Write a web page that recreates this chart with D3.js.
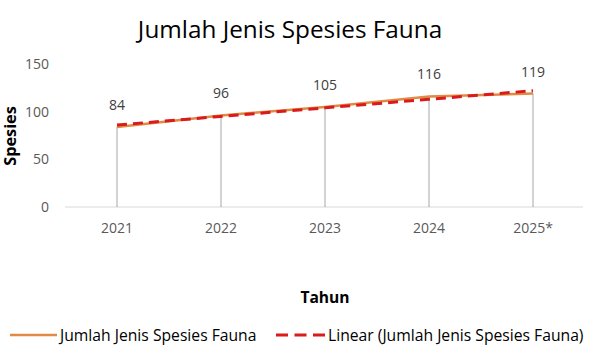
<!DOCTYPE html>
<meta charset="utf-8">
<html>
<head>
    <title>Jumlah Jenis Spesies Fauna</title>
</head>
<style type="text/css">
    body{ margin: 0; background: #fff; }
    text{ font-family: "Open Sans", sans-serif; }
</style>
<script src="https://d3js.org/d3.v7.min.js"></script>
<body>
<script type="text/javascript">
var years = ["2021", "2022", "2023", "2024", "2025*"]
var species = [84, 96, 105, 116, 119]
var yTicks = [0, 50, 100, 150]
var seriesName = "Jumlah Jenis Spesies Fauna"
var trendName = "Linear (Jumlah Jenis Spesies Fauna)"

var svgWidth = 589
var svgHeight = 355
var margin = {top: 64, right: 4, bottom: 148, left: 65}
var width = svgWidth - margin.left - margin.right
var height = svgHeight - margin.top - margin.bottom

var orange = "#E08A45"
var red = "#DA1B1B"

// least squares trend over category index
var mx = d3.mean(species, (d, i) => i + 1)
var my = d3.mean(species)
var slope = d3.sum(species, (d, i) => (i + 1 - mx) * (d - my)) / d3.sum(species, (d, i) => (i + 1 - mx) * (i + 1 - mx))
var icpt = my - slope * mx
var trend = species.map((d, i) => icpt + slope * (i + 1))

var svg = d3.select("body").append("svg")
    .attr("width", svgWidth)
    .attr("height", svgHeight)

var g = svg.append("g")
    .attr("transform", "translate(" + margin.left + "," + margin.top + ")")

var x = d3.scaleBand().domain(years).range([0, 520])
var y = d3.scaleLinear().domain([0, 150]).range([height, 0])
var cx = d => x(d) + x.bandwidth() / 2

// x axis baseline + labels
g.append("line")
    .attr("x1", 0).attr("x2", 518)
    .attr("y1", y(0)).attr("y2", y(0))
    .attr("stroke", "#d9d9d9")

g.selectAll(".xlab").data(years).enter().append("text")
    .attr("x", d => cx(d))
    .attr("y", y(0) + 26)
    .attr("text-anchor", "middle")
    .attr("fill", "#595959")
    .style("font-size", "14px")
    .text(d => d)

g.selectAll(".ylab").data(yTicks).enter().append("text")
    .attr("x", -16)
    .attr("y", d => y(d) + 5)
    .attr("text-anchor", "end")
    .attr("fill", "#595959")
    .style("font-size", "14px")
    .text(d => d)

// drop lines
g.selectAll(".drop").data(species).enter().append("line")
    .attr("x1", (d, i) => cx(years[i])).attr("x2", (d, i) => cx(years[i]))
    .attr("y1", d => y(d)).attr("y2", y(0))
    .attr("stroke", "#a6a6a6")
    .attr("stroke-width", 1)

var line = d3.line()
    .x((d, i) => cx(years[i]))
    .y(d => y(d))

g.append("path")
    .datum(species)
    .attr("fill", "none")
    .attr("stroke", orange)
    .attr("stroke-width", 2.5)
    .attr("d", line)

g.append("path")
    .datum(trend)
    .attr("fill", "none")
    .attr("stroke", red)
    .attr("stroke-width", 3)
    .attr("stroke-dasharray", "10,6")
    .attr("d", line)

g.selectAll(".val").data(species).enter().append("text")
    .attr("x", (d, i) => cx(years[i]))
    .attr("y", d => y(d) - 17)
    .attr("text-anchor", "middle")
    .attr("fill", "#404040")
    .style("font-size", "14px")
    .text(d => d)

// titles
svg.append("text")
    .attr("x", 290).attr("y", 38)
    .attr("text-anchor", "middle")
    .attr("fill", "#000")
    .style("font-size", "24.3px")
    .text(seriesName)

svg.append("text")
    .attr("transform", "translate(16,136) rotate(-90)")
    .attr("text-anchor", "middle")
    .attr("fill", "#000")
    .style("font-size", "16.3px")
    .style("font-weight", "bold")
    .text("Spesies")

svg.append("text")
    .attr("x", 325).attr("y", 303)
    .attr("text-anchor", "middle")
    .attr("fill", "#000")
    .style("font-size", "15.6px")
    .style("font-weight", "bold")
    .text("Tahun")

// legend
var leg = svg.append("g").attr("transform", "translate(0,335)")
leg.append("line").attr("x1", 10).attr("x2", 57).attr("y1", 0).attr("y2", 0)
    .attr("stroke", orange).attr("stroke-width", 2.5)
leg.append("text").attr("x", 60).attr("y", 5.5)
    .attr("fill", "#000").style("font-size", "15.7px")
    .text(seriesName)
leg.append("line").attr("x1", 276).attr("x2", 325).attr("y1", 0).attr("y2", 0)
    .attr("stroke", red).attr("stroke-width", 3).attr("stroke-dasharray", "12,6.5")
leg.append("text").attr("x", 328).attr("y", 5.5)
    .attr("fill", "#000").style("font-size", "15.7px")
    .text(trendName)
</script>
</body>
</html>
